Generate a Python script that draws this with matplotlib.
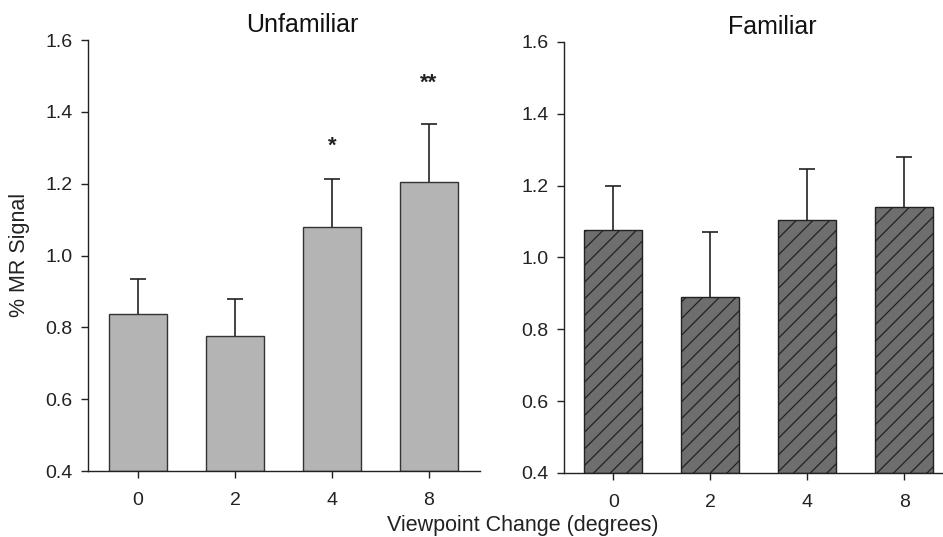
import matplotlib
matplotlib.use("Agg")
import matplotlib.pyplot as plt
import numpy as np

plt.rcParams['font.family'] = ['Liberation Sans', 'DejaVu Sans']
plt.rcParams['hatch.linewidth'] = 0.9

categories = ["0", "2", "4", "8"]
unfamiliar = [0.837, 0.776, 1.078, 1.205]
unfamiliar_err = [0.098, 0.103, 0.134, 0.161]
familiar = [1.077, 0.889, 1.105, 1.141]
familiar_err = [0.122, 0.183, 0.140, 0.139]
stars = ["", "", "*", "**"]
star_y = [None, None, 1.303, 1.479]
yticks = [0.4, 0.6, 0.8, 1.0, 1.2, 1.4, 1.6]

fig = plt.figure(figsize=(9.43, 5.37), dpi=100)
ax1 = fig.add_axes([0.0933, 0.1229, 0.4157, 0.8026])
ax2 = fig.add_axes([0.598, 0.1192, 0.402, 0.8026])

x = np.arange(len(categories))

def style(ax, xlim):
    ax.set_ylim(0.4, 1.6)
    ax.set_xlim(*xlim)
    ax.set_yticks(yticks)
    ax.set_yticklabels([f"{v:.1f}" for v in yticks])
    ax.set_xticks(x)
    ax.set_xticklabels(categories)
    for s in ['top', 'right']:
        ax.spines[s].set_visible(False)
    for s in ['left', 'bottom']:
        ax.spines[s].set_linewidth(1.0)
        ax.spines[s].set_color('#222222')
    ax.tick_params(direction='out', length=5, width=1.0, labelsize=14,
                   colors='#222222')
    ax.tick_params(axis='y', pad=6)
    ax.tick_params(axis='x', pad=10)

def errbars(ax, vals, errs):
    eb = ax.errorbar(x, vals, yerr=[np.zeros(len(vals)), errs], fmt='none',
                     ecolor='#222222', elinewidth=1.2, capsize=6, capthick=1.2,
                     zorder=1)
    for cl in eb[1]:
        if np.allclose(cl.get_ydata(), vals):
            cl.set_visible(False)

ax1.bar(x, [v - 0.4 for v in unfamiliar], bottom=0.4, width=0.6,
        color='#b4b4b4', edgecolor='#333333', linewidth=1.0, zorder=2)
errbars(ax1, unfamiliar, unfamiliar_err)
for xi, s, sy in zip(x, stars, star_y):
    if s:
        ax1.text(xi, sy, s, ha='center', va='center', fontsize=16,
                 fontweight='bold', color='#222222')
style(ax1, (-0.515, 3.526))
ax1.text(0.546, 1.035, "Unfamiliar", transform=ax1.transAxes, ha='center',
         va='center', fontsize=18, color='#111111')

ax2.bar(x, [v - 0.4 for v in familiar], bottom=0.4, width=0.6,
        color='#6e6e6e', edgecolor='#222222', linewidth=1.0, hatch='//', zorder=2)
errbars(ax2, familiar, familiar_err)
style(ax2, (-0.510, 3.40))
ax2.text(0.549, 1.035, "Familiar", transform=ax2.transAxes, ha='center',
         va='center', fontsize=18, color='#111111')

fig.text(0.554, 1 - 525.5 / 537, "Viewpoint Change (degrees)", ha='center',
         va='center', fontsize=15.5, color='#222222')
fig.text(0.021, 1 - 255 / 537, "% MR Signal", ha='center', va='center',
         rotation=90, fontsize=15.5, color='#222222')

fig.savefig("out.png", dpi=100)
